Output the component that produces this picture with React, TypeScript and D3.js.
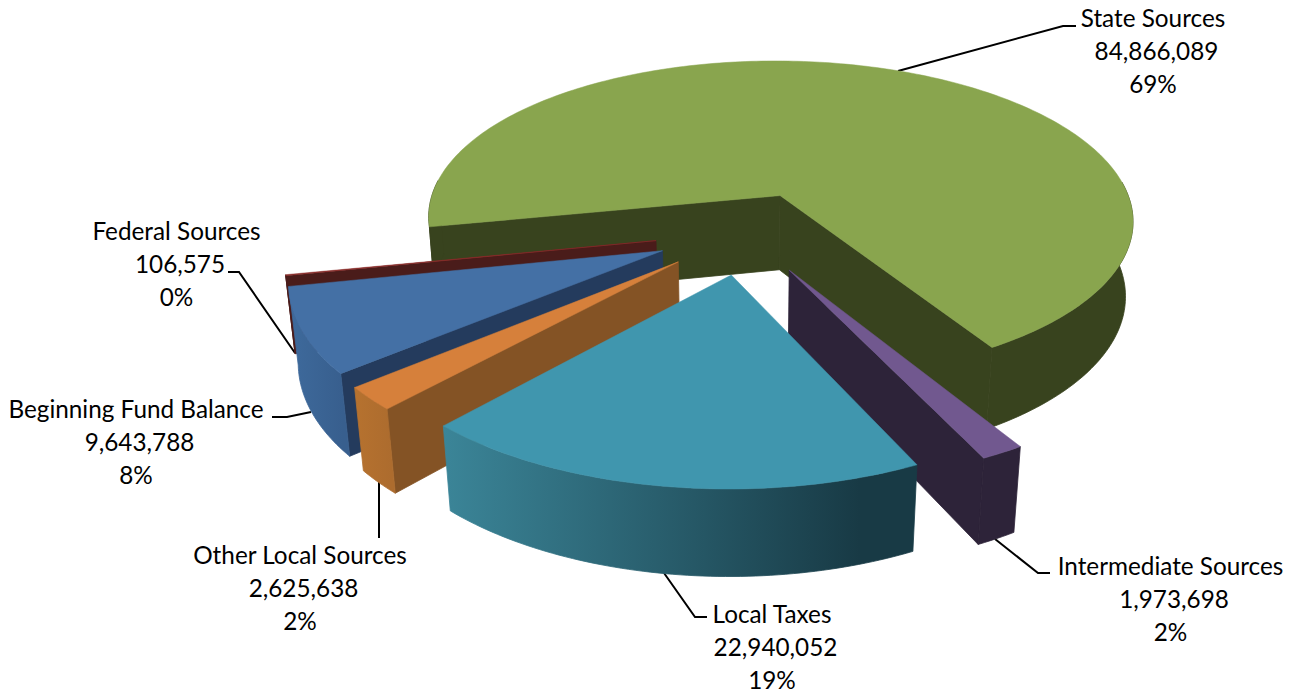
import React from "react";
import * as d3 from "d3";

// Revenue by source, listed clockwise from the first slice.
const categories = [
  "State Sources",
  "Intermediate Sources",
  "Local Taxes",
  "Other Local Sources",
  "Beginning Fund Balance",
  "Federal Sources",
];
const amounts = [84866089, 1973698, 22940052, 2625638, 9643788, 106575];
const percentLabels = ["69%", "2%", "19%", "2%", "8%", "0%"];

const WIDTH = 1294;
const HEIGHT = 696;

// Camera for the tilted disc: v points away from the viewer, z points down.
const camera = { cx: 745, cy: 232.3, rx: 360.5, ry: 166, thickness: 77.5, pv: 0.155, pz: 0.02 };
const EXPLODE = 0.25;
const FIRST_SLICE_DEG = 258.7;

type Pt = [number, number];

function project(u: number, v: number, z: number): Pt {
  const s = 1 / (1 + camera.pv * v + camera.pz * z);
  return [camera.cx + camera.rx * u * s, camera.cy - camera.ry * v * s + camera.thickness * z * s];
}

type SliceStyle = { top: string; inner: string; outer: string; outerEnd?: string };
const sliceStyles: SliceStyle[] = [
  { top: "#89a54e", inner: "#38431e", outer: "#38431e" },
  { top: "#71588f", inner: "#2d2339", outer: "#2d2339" },
  { top: "#4096ae", inner: "#1b3d49", outer: "#3b8598", outerEnd: "#183a45" },
  { top: "#d6803b", inner: "#845325", outer: "#b6722f", outerEnd: "#ad6c2e" },
  { top: "#4470a5", inner: "#243b5d", outer: "#3e6a9c", outerEnd: "#385f8e" },
  { top: "#8c2f2c", inner: "#4a1c1a", outer: "#4a1c1a" },
];

// Back-to-front paint order of the slices.
const paintOrder = [0, 5, 4, 3, 1, 2];

type Callout = { x: number; baseline: number; leader: Pt[] };
const callouts: Callout[] = [
  { x: 1153, baseline: 26.5, leader: [[898, 71], [1063, 26], [1076, 26]] },
  { x: 1170.5, baseline: 574.5, leader: [[995, 539], [1038, 573], [1050, 573]] },
  { x: 772, baseline: 622.5, leader: [[664, 573], [695, 617], [707, 617]] },
  { x: 300, baseline: 563.5, leader: [[379, 482], [379, 538]] },
  { x: 136, baseline: 418, leader: [[272, 417], [287, 417], [311, 412]] },
  { x: 176.5, baseline: 240, leader: [[228, 272], [239, 272], [295, 353]] },
];

const polyline = d3.line<Pt>();
const closedPath = (pts: Pt[]) => (polyline(pts) as string) + "Z";

export default function App() {
  const arcs = d3
    .pie<number>()
    .sort(null)
    .startAngle((FIRST_SLICE_DEG * Math.PI) / 180)
    .endAngle((FIRST_SLICE_DEG * Math.PI) / 180 + 2 * Math.PI)(amounts);

  const faces = arcs.map((a) => {
    const mid = (a.startAngle + a.endAngle) / 2;
    const ox = EXPLODE * Math.sin(mid);
    const oy = EXPLODE * Math.cos(mid);
    const steps = Math.max(2, Math.ceil(((a.endAngle - a.startAngle) * 180) / Math.PI));
    const angles = d3.range(steps + 1).map((i) => a.startAngle + ((a.endAngle - a.startAngle) * i) / steps);
    const rimAt = (t: number, z: number) => project(ox + Math.sin(t), oy + Math.cos(t), z);
    const apex = (z: number) => project(ox, oy, z);
    const topRim = angles.map((t) => rimAt(t, 0));
    const lowRim = angles.map((t) => rimAt(t, 1));
    const top: Pt[] = [apex(0), ...topRim];

    // The wall is only built where it faces the camera, so the far rim stays clean.
    const runs: number[][] = [];
    let run: number[] = [];
    angles.forEach((t) => {
      if (Math.cos(t) < 0.1) {
        run.push(t);
      } else if (run.length) {
        runs.push(run);
        run = [];
      }
    });
    if (run.length) runs.push(run);
    const walls: Pt[][] = runs
      .filter((r) => r.length > 1)
      .map((r) => [...r.map((t) => rimAt(t, 0)), ...[...r].reverse().map((t) => rimAt(t, 1))]);

    const radialStart: Pt[] = [apex(0), topRim[0], lowRim[0], apex(1)];
    const radialEnd: Pt[] = [topRim[steps], apex(0), apex(1), lowRim[steps]];
    // Only radial cuts turned towards the camera are painted; the large slice shows both.
    const reflex = a.endAngle - a.startAngle > Math.PI;
    const radials = [radialStart, radialEnd].filter((f) => reflex || d3.polygonArea(f) > 0);
    const xs = [...topRim, ...lowRim].map((p) => p[0]);
    return { top, walls, radials, x0: d3.min(xs) as number, x1: d3.max(xs) as number };
  });

  const fontSize = 24.3;
  const lineGap = 33.2;
  const amountNudge = 3.5; // the amount line sits slightly right of the centred name

  return (
    <svg
      width={WIDTH}
      height={HEIGHT}
      viewBox={`0 0 ${WIDTH} ${HEIGHT}`}
      style={{ position: "absolute", left: 0, top: 0, background: "#fff" }}
    >
      <defs>
        {paintOrder.map((i) => {
          const st = sliceStyles[i];
          if (!st.outerEnd) return null;
          return (
            <linearGradient
              key={i}
              id={`wall-${i}`}
              gradientUnits="userSpaceOnUse"
              x1={faces[i].x0}
              x2={faces[i].x1}
              y1={0}
              y2={0}
            >
              <stop offset="0" stopColor={st.outer} />
              <stop offset="0.88" stopColor={st.outerEnd} />
              <stop offset="1" stopColor={st.outerEnd} />
            </linearGradient>
          );
        })}
      </defs>

      <g fill="none" stroke="#000" strokeWidth={2}>
        {callouts.map((c, i) => (
          <path key={i} d={polyline(c.leader) as string} />
        ))}
      </g>

      {paintOrder.map((i) => {
        const st = sliceStyles[i];
        const f = faces[i];
        const wallFill = st.outerEnd ? `url(#wall-${i})` : st.outer;
        return (
          <g key={categories[i]} strokeLinejoin="round">
            {f.radials.map((r, k) => (
              <path key={k} d={closedPath(r)} fill={st.inner} stroke={st.inner} strokeWidth={0.8} />
            ))}
            {f.walls.map((w, k) => (
              <path key={k} d={closedPath(w)} fill={wallFill} stroke={wallFill} strokeWidth={0.8} />
            ))}
            <path d={closedPath(f.top)} fill={st.top} stroke={st.top} strokeWidth={0.5} />
          </g>
        );
      })}

      <g fontFamily="Lato, 'Open Sans', sans-serif" fontSize={fontSize} fill="#000" textAnchor="middle">
        {callouts.map((c, i) => (
          <text key={i} x={c.x} y={c.baseline}>
            <tspan x={c.x}>{categories[i]}</tspan>
            <tspan x={c.x + amountNudge} dy={lineGap}>
              {d3.format(",")(amounts[i])}
            </tspan>
            <tspan x={c.x} dy={lineGap}>
              {percentLabels[i]}
            </tspan>
          </text>
        ))}
      </g>
    </svg>
  );
}
